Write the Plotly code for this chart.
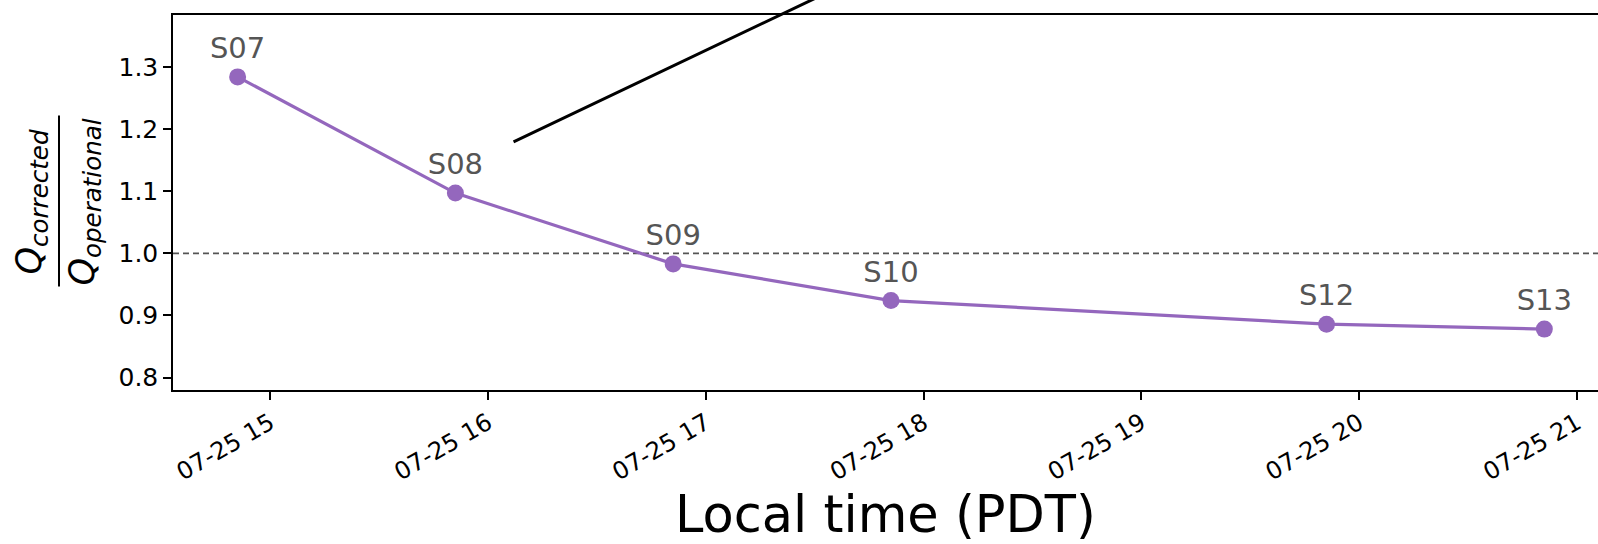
import plotly.graph_objects as go

# ---- data ----
times = ["2023-07-25 14:51", "2023-07-25 15:51", "2023-07-25 16:51",
         "2023-07-25 17:51", "2023-07-25 19:51", "2023-07-25 20:51"]
ratios = [1.284, 1.097, 0.983, 0.924, 0.886, 0.878]
labels = ["S07", "S08", "S09", "S10", "S12", "S13"]
x_range = ["2023-07-25 14:33:12", "2023-07-25 21:05:47"]
y_range = [0.780, 1.3836]
y_ticks = [0.8, 0.9, 1.0, 1.1, 1.2, 1.3]
ref_value = 1.0
pointer_start = ("2023-07-25 16:07:01", 1.1794)
pointer_end = ("2023-07-25 17:46:19", 1.4555)

PURPLE = "#9467bd"
FONT = "DejaVu Sans"

fig = go.Figure()
fig.add_trace(go.Scatter(
    x=times, y=ratios, mode="lines+markers+text",
    text=labels, textposition="top center",
    textfont=dict(family=FONT, size=29, color="#555555"),
    line=dict(color=PURPLE, width=3.2),
    marker=dict(color=PURPLE, size=17),
    cliponaxis=False, showlegend=False,
))

# reference line at 1.0
fig.add_shape(type="line", xref="paper", x0=0, x1=1, yref="y", y0=ref_value, y1=ref_value,
              line=dict(color="#555555", width=1.7, dash="6px,4px"), layer="below")

# pointer line
fig.add_annotation(x=pointer_start[0], y=pointer_start[1], xref="x", yref="y",
                   ax=pointer_end[0], ay=pointer_end[1], axref="x", ayref="y",
                   text="", showarrow=True, arrowhead=0, arrowwidth=3,
                   arrowcolor="black", standoff=0, startstandoff=0)

# y-axis title as fraction
fig.add_annotation(xref="paper", yref="paper", x=0, y=0.5, xshift=-142, xanchor="center",
                   yanchor="middle", textangle=-90, showarrow=False,
                   text="<i>Q<sub>corrected</sub></i>",
                   font=dict(family=FONT, size=35, color="black"))
fig.add_annotation(xref="paper", yref="paper", x=0, y=0.5, xshift=-89, xanchor="center",
                   yanchor="middle", textangle=-90, showarrow=False,
                   text="<i>Q<sub>operational</sub></i>",
                   font=dict(family=FONT, size=35, color="black"))
fig.add_shape(type="line", xref="paper", yref="paper",
              x0=-114 / 1425, x1=-114 / 1425, y0=0.276, y1=0.732,
              line=dict(color="black", width=2))

fig.update_xaxes(
    type="date", range=x_range, dtick=3600000, tick0="2023-07-25 00:00",
    tickformat="%m-%d %H", tickangle=-30,
    tickfont=dict(family=FONT, size=24, color="black"),
    ticks="outside", ticklen=8, tickwidth=1.5, tickcolor="black",
    showline=True, linecolor="black", linewidth=1.5, mirror=True,
    showgrid=False, zeroline=False,
    title=dict(text="Local time (PDT)", font=dict(family=FONT, size=51, color="black"), standoff=7),
)
fig.update_yaxes(
    range=y_range, tickvals=y_ticks, ticktext=[f"{v:.1f}" for v in y_ticks],
    tickfont=dict(family=FONT, size=25, color="black"),
    ticks="outside", ticklen=8, tickwidth=1.5, tickcolor="black",
    showline=True, linecolor="black", linewidth=1.5, mirror=False,
    showgrid=False, zeroline=False,
)

fig.update_layout(
    width=1598, height=544,
    margin=dict(l=173, r=0, t=15, b=154, autoexpand=False),
    plot_bgcolor="white", paper_bgcolor="white",
    font=dict(family=FONT),
)

fig.write_html("out.html", config={"displayModeBar": False},
               post_script="document.body.style.margin='0px';document.body.style.overflow='hidden';")
